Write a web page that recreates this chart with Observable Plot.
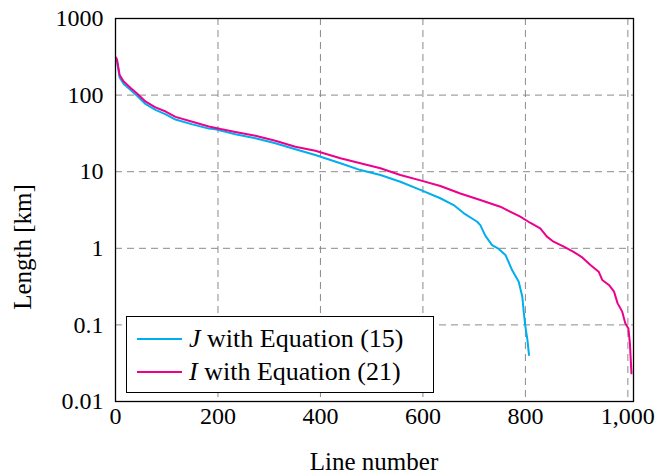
<!DOCTYPE html>
<html><head><meta charset="utf-8">
<script src="https://cdn.jsdelivr.net/npm/d3@7"></script>
<script src="https://cdn.jsdelivr.net/npm/@observablehq/plot@0.6"></script>
<style>
body{margin:0;background:#fff;}
html body #wrap, html body #wrap *, html body #wrap svg text {font-family:"Liberation Serif", serif !important;}
#wrap{position:relative;width:659px;height:474px;color:#000;}
#wrap svg{position:absolute;left:0;top:0;}
.lbl{position:absolute;font-size:25px;white-space:nowrap;line-height:1;}
#xlab{left:374px;top:461px;transform:translate(-50%,-50%);}
#ylab{left:22px;top:247px;transform:translate(-50%,-50%) rotate(-90deg);}
#legend{position:absolute;left:126px;top:316px;width:306px;height:75px;border:1px solid #000;background:#fff;}
.row{position:absolute;left:0;height:32px;width:100%;font-size:26px;line-height:32px;}
.row .sw{position:absolute;left:10px;top:15px;width:45px;height:2px;}
.row .tx{position:absolute;left:62px;top:0;white-space:nowrap;}
</style></head><body><div id="wrap"></div>
<script>
const xTicks = [0, 200, 400, 600, 800, 1000];
const yTicks = [0.01, 0.1, 1, 10, 100, 1000];
const seriesNames = ["<i>J</i> with Equation (15)", "<i>I</i> with Equation (21)"];
const seriesColors = ["#00AEEF", "#EC008C"];

// J with Equation (15)
const xJ = [1, 3, 8, 16, 29, 42, 59, 78, 98, 117, 150, 182, 195, 234, 273, 312, 351, 390, 439, 478, 517, 556, 595, 634, 660, 680, 706, 712, 722, 735, 748, 761, 774, 787, 794, 797, 800, 804, 807];
const yJ = [290, 275, 170, 140, 117, 98, 76, 64, 56, 48, 41.5, 36.5, 35.7, 30.8, 27.3, 23.5, 19.6, 16.5, 12.9, 10.5, 9.06, 7.4, 5.8, 4.5, 3.67, 2.86, 2.22, 2.01, 1.45, 1.1, 0.98, 0.82, 0.52, 0.366, 0.233, 0.142, 0.095, 0.0635, 0.0405];

// I with Equation (21)
const xI = [1, 3, 8, 16, 29, 42, 59, 78, 98, 117, 150, 182, 205, 234, 273, 312, 351, 390, 439, 478, 517, 556, 595, 634, 673, 712, 751, 790, 810, 829, 842, 855, 875, 894, 911, 927, 943, 950, 963, 973, 980, 989, 995, 1001, 1004, 1007];
const yI = [310, 290, 183, 150, 125, 105, 82, 69, 61, 52, 45, 39, 36, 33, 29.5, 25.4, 21.2, 18.8, 15, 12.9, 11.1, 9.06, 7.7, 6.5, 5.2, 4.27, 3.49, 2.59, 2.14, 1.82, 1.42, 1.22, 1.05, 0.90, 0.76, 0.605, 0.495, 0.386, 0.332, 0.272, 0.191, 0.149, 0.105, 0.090, 0.0575, 0.0233];

const dataJ = xJ.map((x, i) => ({x, y: yJ[i]}));
const dataI = xI.map((x, i) => ({x, y: yI[i]}));

const gridStyle = {stroke: "#8a8a8a", strokeOpacity: 1, strokeWidth: 1, strokeDasharray: "7,5"};
const fontStack = "\"Liberation Serif\", serif";

const chart = Plot.plot({
  width: 659, height: 474,
  marginLeft: 115, marginRight: 26, marginTop: 18, marginBottom: 73,
  style: {fontFamily: fontStack, fontSize: "24px", color: "#000", background: "#fff"},
  x: {domain: [0, 1011]},
  y: {type: "log", domain: [0.01, 1000]},
  marks: [
    Plot.gridX(xTicks.filter(d => d > 0), gridStyle),
    Plot.gridY(yTicks.filter(d => d > 0.01 && d < 1000), gridStyle),
    Plot.axisX(xTicks, {tickSize: 0, tickPadding: 5, tickFormat: d3.format(","), label: null, fontSize: 24}),
    Plot.axisY(yTicks, {tickSize: 0, tickPadding: 12, tickFormat: d => String(d), label: null, fontSize: 24}),
    Plot.line(dataJ, {x: "x", y: "y", stroke: seriesColors[0], strokeWidth: 2}),
    Plot.line(dataI, {x: "x", y: "y", stroke: seriesColors[1], strokeWidth: 2}),
    Plot.frame({stroke: "#000", strokeWidth: 1.3})
  ]
});
chart.querySelectorAll("text").forEach(el => el.setAttribute("font-family", "Liberation Serif"));

const wrap = document.getElementById("wrap");
wrap.appendChild(chart);

const xl = document.createElement("div"); xl.className = "lbl"; xl.id = "xlab"; xl.textContent = "Line number"; wrap.appendChild(xl);
const yl = document.createElement("div"); yl.className = "lbl"; yl.id = "ylab"; yl.textContent = "Length [km]"; wrap.appendChild(yl);

const lg = document.createElement("div"); lg.id = "legend";
seriesNames.forEach((n, i) => {
  const r = document.createElement("div"); r.className = "row"; r.style.top = (6 + i * 33) + "px";
  r.innerHTML = `<div class="sw" style="background:${seriesColors[i]}"></div><div class="tx">${n}</div>`;
  lg.appendChild(r);
});
wrap.appendChild(lg);
</script></body></html>
